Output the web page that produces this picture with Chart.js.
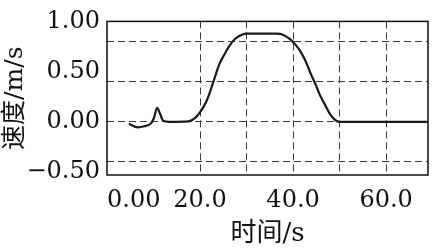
<!DOCTYPE html>
<html><head><meta charset="utf-8">
<script src="https://cdn.jsdelivr.net/npm/chart.js@4"></script>
<style>html,body{margin:0;padding:0;background:#fff}#w{width:439px;height:250px}</style>
</head><body><div id="w"><canvas id="c"></canvas></div>
<script>
const times  = [4.7, 6.6, 8.0, 9.5, 10.1, 10.8, 11.4, 12.1, 13.3, 17.5, 18.9, 20.3, 21.3, 22.0, 22.7, 23.4, 24.1, 25.2, 26.2, 27.6, 29.0, 30.1, 36.4, 37.8, 39.2, 40.6, 41.6, 42.7, 43.7, 44.8, 45.8, 46.9, 47.9, 49.0, 50.0, 69.0];
const speeds = [-0.02, -0.055, -0.045, -0.013, 0.04, 0.14, 0.08, 0.01, 0.0, 0.004, 0.036, 0.117, 0.198, 0.279, 0.376, 0.473, 0.570, 0.667, 0.748, 0.829, 0.868, 0.878, 0.878, 0.868, 0.828, 0.764, 0.699, 0.603, 0.489, 0.376, 0.263, 0.166, 0.079, 0.020, 0.0, 0.0];
const xTickValues = [0, 20, 40, 60];
const xTickLabels = ['0.00', '20.0', '40.0', '60.0'];
const xGridValues = [20, 30, 40, 50, 60];
const yTickValues = [-0.5, 0, 0.5, 1.0];
const yTickLabels = ['\u22120.50', '0.00', '0.50', '1.00'];
const yGridValues = [-0.4, 0, 0.4, 0.8];
const xTitle = '时间/s';
const yTitle = '速度/m/s';
const xMin = 0, xMax = 69, yMin = -0.53, yMax = 1.0;

const near = (a, b) => Math.abs(a - b) < 1e-6;
const has = (arr, v) => arr.some(a => near(a, v));
const labelFor = (vals, labs, v) => { const i = vals.findIndex(a => near(a, v)); return i >= 0 ? labs[i] : ''; };
const uniq = arr => arr.filter((v, i) => arr.findIndex(a => near(a, v)) === i).sort((a, b) => a - b);

const gridColor = '#3a3a3a';
const fontFamily = "'DejaVu Serif', 'Noto Sans CJK SC', serif";

const framePlugin = {
  id: 'frame',
  afterDraw(chart) {
    const a = chart.chartArea, ctx = chart.ctx;
    ctx.save();
    ctx.strokeStyle = '#111';
    ctx.lineWidth = 1.5;
    ctx.strokeRect(a.left, a.top, a.right - a.left, a.bottom - a.top);
    ctx.restore();
  }
};

new Chart(document.getElementById('c'), {
  type: 'line',
  data: {
    datasets: [{
      data: times.map((t, i) => ({ x: t, y: speeds[i] })),
      borderColor: '#1a1a1a',
      borderWidth: 2.2,
      pointRadius: 0,
      fill: false,
      cubicInterpolationMode: 'monotone'
    }]
  },
  options: {
    responsive: true,
    maintainAspectRatio: false,
    animation: false,
    layout: { padding: { top: 17, right: 3, left: 0, bottom: 0 } },
    plugins: { legend: { display: false }, tooltip: { enabled: false } },
    scales: {
      x: {
        type: 'linear', min: xMin, max: xMax,
        afterBuildTicks: s => { s.ticks = uniq([...xTickValues, ...xGridValues, xMax]).map(v => ({ value: v })); },
        afterFit: s => { s.height = 75; },
        border: { display: false, dash: [7, 4] },
        grid: {
          drawTicks: false,
          color: c => (c.tick && has(xGridValues, c.tick.value)) ? gridColor : 'rgba(0,0,0,0)',
          lineWidth: 1
        },
        ticks: {
          autoSkip: false, maxRotation: 0, minRotation: 0, align: 'inner', padding: 11,
          color: '#111', font: { family: fontFamily, size: 24 },
          callback: v => labelFor(xTickValues, xTickLabels, v)
        },
        title: { display: true, text: xTitle, color: '#111', font: { family: fontFamily, size: 26 }, padding: { top: 0, bottom: 0 } }
      },
      y: {
        type: 'linear', min: yMin, max: yMax,
        afterBuildTicks: s => { s.ticks = uniq([...yTickValues, ...yGridValues]).map(v => ({ value: v })); },
        afterFit: s => { s.width = 107; },
        border: { display: false, dash: [7, 4] },
        grid: {
          drawTicks: false,
          color: c => (c.tick && has(yGridValues, c.tick.value)) ? gridColor : 'rgba(0,0,0,0)',
          lineWidth: 1
        },
        ticks: {
          autoSkip: false, padding: 7,
          color: '#111', font: { family: fontFamily, size: 24 },
          callback: v => labelFor(yTickValues, yTickLabels, v)
        },
        title: { display: true, text: yTitle, color: '#111', font: { family: fontFamily, size: 25 }, padding: { top: 0, bottom: 0 } }
      }
    }
  },
  plugins: [framePlugin]
});
</script>
</body></html>
